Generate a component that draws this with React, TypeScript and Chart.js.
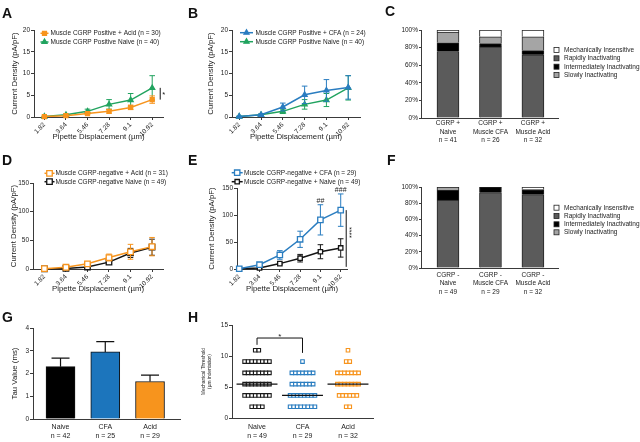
import React, { useEffect, useRef } from 'react';
import { Chart, registerables } from 'chart.js';

Chart.register(...registerables);

const FONT = "Arial, 'Liberation Sans', Helvetica, sans-serif";
const TXT = '#1b1b1b';
const AXIS = '#3a3a3a';
const ORANGE = '#F7941D';
const GREEN = '#21A35F';
const BLUE = '#2A7DC0';
const BLACK = '#141414';
const TICK = 6.5;
const TITLE = 7.8;

// ---------------- data ----------------
const displacementLabels = ['1.82', '3.64', '5.46', '7.28', '9.1', '10.92'];

// Panel A / B (CGRP positive)
const acidPosMean = [0.1, 0.3, 0.8, 1.3, 2.2, 4.0];
const acidPosSem = [0.05, 0.1, 0.2, 0.4, 0.5, 0.85];
const naivePosMean = [0.1, 0.5, 1.3, 2.9, 3.9, 6.7];
const naivePosSem = [0.1, 0.2, 0.5, 1.1, 1.5, 2.8];
const cfaPosMean = [0.1, 0.5, 2.3, 5.1, 6.1, 6.8];
const cfaPosSem = [0.05, 0.2, 0.9, 2.0, 2.5, 2.7];

// Panel D / E (CGRP negative)
const acidNegMean = [0.5, 3, 9, 20, 30, 39];
const acidNegSem = [0.3, 1, 2.5, 6, 13, 16];
const naiveNegMeanD = [0.3, 1, 3.5, 12, 28, 38];
const naiveNegSemD = [0.2, 0.6, 1.5, 3.5, 8, 14];
const cfaNegMean = [0.5, 8, 26, 55, 91, 109];
const cfaNegSem = [0.3, 2, 8, 15, 28, 30];
const naiveNegMeanE = [0.3, 2, 10, 20, 32, 39];
const naiveNegSemE = [0.2, 1, 2, 7, 13, 17];
const cfaNegMarks = ['', '', '', '', '##', '###'];

// Panels C / F (percent of neurons)
const classNames = ['Mechanically Insensitive', 'Rapidly Inactivating', 'Intermediately Inactivating', 'Slowly Inactivating'];
const classColors = ['#FFFFFF', '#5B5B5B', '#000000', '#A5A5A5'];
const posGroups = [['CGRP +', 'Naive', 'n = 41'], ['CGRP +', 'Muscle CFA', 'n = 26'], ['CGRP +', 'Muscle Acid', 'n = 32']];
const posRapid = [75.6, 80.8, 71.9];
const posIntermediate = [9.8, 3.8, 4.7];
const posSlow = [12.2, 7.7, 15.6];
const posInsensitive = [2.4, 7.7, 7.8];
const negGroups = [['CGRP -', 'Naive', 'n = 49'], ['CGRP -', 'Muscle CFA', 'n = 29'], ['CGRP -', 'Muscle Acid', 'n = 32']];
const negRapid = [83.7, 93.1, 90.6];
const negIntermediate = [12.2, 6.9, 6.3];
const negSlow = [4.1, 0, 0];
const negInsensitive = [0, 0, 3.1];

// Panel G
const tauGroups = [['Naive', 'n = 42'], ['CFA', 'n = 25'], ['Acid', 'n = 29']];
const tauMean = [2.3, 2.95, 1.65];
const tauSem = [0.38, 0.45, 0.28];
const tauColors = ['#000000', '#1C75BC', ORANGE];

// Panel H
const thresholdGroups = [['Naive', 'n = 49'], ['CFA', 'n = 29'], ['Acid', 'n = 32']];
const thresholdLevels = [1.82, 3.64, 5.46, 7.28, 9.1, 10.92];
const naiveThresholdCounts = [4, 8, 8, 8, 8, 2];
const cfaThresholdCounts = [8, 8, 7, 7, 1, 0];
const acidThresholdCounts = [2, 6, 7, 7, 2, 1];

// ---------------- layout ----------------
type Rect = { x: number; y: number; w: number; h: number };
type Area = { l: number; t: number; r: number; b: number };

const RA: Rect = { x: 0, y: 0, w: 195, h: 150 };
const RB: Rect = { x: 195, y: 0, w: 190, h: 150 };
const RC: Rect = { x: 385, y: 0, w: 255, h: 150 };
const RD: Rect = { x: 0, y: 150, w: 195, h: 150 };
const RE: Rect = { x: 195, y: 150, w: 190, h: 150 };
const RF: Rect = { x: 385, y: 150, w: 255, h: 150 };
const RG: Rect = { x: 0, y: 300, w: 195, h: 142 };
const RH: Rect = { x: 195, y: 300, w: 190, h: 142 };

const panelLetters = [
  { t: 'A', x: 2, y: 6 }, { t: 'B', x: 188, y: 6 }, { t: 'C', x: 385, y: 4 },
  { t: 'D', x: 2, y: 153 }, { t: 'E', x: 188, y: 153 }, { t: 'F', x: 387, y: 153 },
  { t: 'G', x: 2, y: 310 }, { t: 'H', x: 188, y: 310 },
];

// ---------------- drawing helpers ----------------
function drawText(ctx: CanvasRenderingContext2D, s: string, x: number, y: number, o: any = {}) {
  ctx.save();
  ctx.font = `${o.bold ? 'bold ' : ''}${o.size || TICK}px ${FONT}`;
  ctx.fillStyle = o.color || TXT;
  ctx.textAlign = o.align || 'left';
  ctx.textBaseline = o.baseline || 'middle';
  if (o.rotate) {
    ctx.translate(x, y);
    ctx.rotate(o.rotate);
    ctx.fillText(s, 0, 0);
  } else ctx.fillText(s, x, y);
  ctx.restore();
}

function marker(ctx: CanvasRenderingContext2D, style: string, x: number, y: number, r: number, fill: string, stroke: string, lw: number) {
  ctx.save();
  ctx.beginPath();
  if (style === 'triangle') {
    for (let k = 0; k < 3; k++) {
      const a = (k * 2 * Math.PI) / 3;
      const px = x + Math.sin(a) * r;
      const py = y - Math.cos(a) * r;
      if (k === 0) ctx.moveTo(px, py);
      else ctx.lineTo(px, py);
    }
    ctx.closePath();
  } else if (style === 'rect') {
    const s = r * Math.SQRT1_2;
    ctx.rect(x - s, y - s, 2 * s, 2 * s);
  } else {
    ctx.arc(x, y, r, 0, Math.PI * 2);
  }
  ctx.fillStyle = fill;
  ctx.fill();
  ctx.lineWidth = lw;
  ctx.strokeStyle = stroke;
  ctx.stroke();
  ctx.restore();
}

function drawErr(chart: any, index: number, after: boolean) {
  const ds = chart.data.datasets[index];
  if (!ds || !ds.errors || !!ds.errorAfter !== after) return;
  const meta = chart.getDatasetMeta(index);
  const ys = chart.scales.y;
  const ctx: CanvasRenderingContext2D = chart.ctx;
  ctx.save();
  ctx.strokeStyle = ds.errorColor || ds.borderColor;
  ctx.lineWidth = ds.errorWidth || 1;
  const cap = ds.capHalf ?? 2.5;
  meta.data.forEach((el: any, i: number) => {
    const e = ds.errors[i];
    if (!e) return;
    const v = ds.data[i].y;
    const x = el.x;
    const top = ys.getPixelForValue(v + e);
    const bot = ds.errorUpOnly ? ys.getPixelForValue(v) : ys.getPixelForValue(v - e);
    ctx.beginPath();
    ctx.moveTo(x, top);
    ctx.lineTo(x, bot);
    ctx.moveTo(x - cap, top);
    ctx.lineTo(x + cap, top);
    if (!ds.errorUpOnly) {
      ctx.moveTo(x - cap, bot);
      ctx.lineTo(x + cap, bot);
    }
    ctx.stroke();
  });
  ctx.restore();
}

const errorBarPlugin = {
  id: 'semBars',
  beforeDatasetDraw(chart: any, args: any) { drawErr(chart, args.index, false); },
  afterDatasetDraw(chart: any, args: any) { drawErr(chart, args.index, true); },
};

// ---------------- axis builders ----------------
function yAxis(o: any) {
  return {
    type: 'linear', position: 'left', min: o.min, max: o.max,
    ticks: { stepSize: o.step, font: { family: FONT, size: TICK }, color: TXT, padding: 1, callback: (v: number) => `${v}${o.suffix || ''}` },
    grid: { drawOnChartArea: false, drawTicks: true, tickLength: o.tickLength ?? 3, tickColor: AXIS, tickWidth: 1 },
    border: { display: true, color: AXIS, width: 1 },
    title: o.title
      ? { display: true, text: o.title, font: { family: FONT, size: o.titleSize || TITLE, lineHeight: 1.2 }, color: TXT, padding: { top: o.titlePad, bottom: 0 } }
      : { display: false },
    afterFit: (s: any) => { s.width = o.width; },
  };
}

function xAxis(o: any) {
  return {
    type: 'linear', position: 'bottom', min: o.min, max: o.max, offset: false,
    afterBuildTicks: (s: any) => { s.ticks = o.labels.map((_: any, i: number) => ({ value: i })); },
    ticks: {
      autoSkip: false, minRotation: o.rot || 0, maxRotation: o.rot || 0,
      font: { family: FONT, size: o.size || TICK, lineHeight: o.lh || 1.2 }, color: TXT, padding: o.pad ?? 1,
      callback: (v: number) => o.labels[Math.round(v)],
    },
    grid: { offset: false, drawOnChartArea: false, drawTicks: !!o.tickMarks, tickLength: o.tickMarks ? 3 : 0, tickColor: AXIS, tickWidth: 1 },
    border: { display: true, color: AXIS, width: 1 },
    title: o.title
      ? { display: true, text: o.title, font: { family: FONT, size: TITLE, lineHeight: 1.2 }, color: TXT, padding: { top: 0, bottom: o.titlePad } }
      : { display: false },
    afterFit: (s: any) => { s.height = o.height; },
  };
}

function paddingFor(rect: Rect, area: Area, xH: number) {
  return { left: 0, top: area.t - rect.y, right: rect.x + rect.w - area.r, bottom: rect.y + rect.h - area.b - xH };
}

const baseOptions = {
  animation: false, responsive: false, maintainAspectRatio: false, devicePixelRatio: 1, events: [],
};

function lineSet(label: string, means: number[], sems: number[], color: string, style: string, r: number, fill: string) {
  return {
    label,
    data: means.map((y, i) => ({ x: i, y })),
    errors: sems,
    borderColor: color, backgroundColor: color, borderWidth: 1.5,
    pointStyle: style, pointRadius: r, pointHoverRadius: r,
    pointBackgroundColor: fill, pointBorderColor: color, pointBorderWidth: 1.3,
    tension: 0, clip: false, capHalf: 2.8,
  };
}

function lineConfig(p: any, datasets: any[], annotate?: (chart: any, ctx: CanvasRenderingContext2D) => void) {
  const lh = TITLE * 1.2;
  const { rect, area, xH } = p;
  return {
    type: 'line',
    data: { datasets },
    options: {
      ...baseOptions,
      layout: { padding: paddingFor(rect, area, xH) },
      plugins: { legend: { display: false }, tooltip: { enabled: false } },
      scales: {
        x: xAxis({ min: p.xMin, max: p.xMax, labels: displacementLabels, rot: 45, height: xH, tickMarks: true, pad: 1, title: 'Pipette Displacement (µm)', titlePad: area.b + xH - p.xTitleY - lh / 2 }),
        y: yAxis({ min: 0, max: p.yMax, step: p.yStep, width: area.l - rect.x, title: 'Current Density (pA/pF)', titlePad: p.yTitleX - rect.x - lh / 2 }),
      },
    },
    plugins: [errorBarPlugin, {
      id: 'overlay',
      afterDraw(chart: any) {
        const ctx: CanvasRenderingContext2D = chart.ctx;
        datasets.forEach((ds, i) => {
          const y = p.legend.ys[i] - rect.y;
          const x1 = p.legend.x1 - rect.x;
          const x2 = p.legend.x2 - rect.x;
          ctx.save();
          ctx.strokeStyle = ds.borderColor;
          ctx.lineWidth = 1.5;
          ctx.beginPath();
          ctx.moveTo(x1, y);
          ctx.lineTo(x2, y);
          ctx.stroke();
          ctx.restore();
          marker(ctx, ds.pointStyle, (x1 + x2) / 2, y, ds.pointRadius, ds.pointBackgroundColor, ds.borderColor, 1.3);
          drawText(ctx, ds.label, p.legend.tx - rect.x, y + 0.3, { size: TICK });
        });
        if (annotate) annotate(chart, ctx);
      },
    }],
  };
}

function stackConfig(rect: Rect, area: Area, groups: string[][], rapid: number[], inter: number[], slow: number[], insens: number[], tickPad: number, legendYs: number[]) {
  const xH = 30;
  const mk = (vals: number[], color: string) => ({
    data: vals.map((y, i) => ({ x: i, y })),
    backgroundColor: color, borderColor: '#222', borderWidth: 1, borderSkipped: 'start',
    barThickness: 22, stack: 's',
  });
  const datasets = [mk(rapid, classColors[1]), mk(inter, classColors[2]), mk(slow, classColors[3]), mk(insens, classColors[0])];
  return {
    type: 'bar',
    data: { datasets },
    options: {
      ...baseOptions,
      layout: { padding: paddingFor(rect, area, xH) },
      plugins: { legend: { display: false }, tooltip: { enabled: false } },
      scales: {
        x: { ...xAxis({ min: -0.635, max: 2.59, labels: groups, height: xH, tickMarks: false, pad: tickPad, lh: 1.3 }), stacked: true },
        y: { ...yAxis({ min: 0, max: 100, step: 20, width: area.l - rect.x, suffix: '%', tickLength: 2 }), stacked: true },
      },
    },
    plugins: [{
      id: 'overlay',
      afterDraw(chart: any) {
        const ctx: CanvasRenderingContext2D = chart.ctx;
        classNames.forEach((name, i) => {
          const y = legendYs[i] - rect.y;
          const bx = 554 - rect.x;
          ctx.save();
          ctx.fillStyle = classColors[i];
          ctx.fillRect(bx, y - 2.5, 5, 5);
          ctx.strokeStyle = '#222';
          ctx.lineWidth = 0.8;
          ctx.strokeRect(bx, y - 2.5, 5, 5);
          ctx.restore();
          drawText(ctx, name, 564 - rect.x, y + 0.3, { size: TICK });
        });
      },
    }],
  };
}

// ---------------- panels ----------------
function buildA() {
  const ds = [
    lineSet('Muscle CGRP Positive + Acid (n = 30)', acidPosMean, acidPosSem, ORANGE, 'rect', 2.8, ORANGE),
    lineSet('Muscle CGRP Positive Naive (n = 40)', naivePosMean, naivePosSem, GREEN, 'triangle', 2.9, GREEN),
  ];
  return lineConfig({
    rect: RA, area: { l: 34, t: 30, r: 163, b: 117 }, xH: 30,
    yMax: 20, yStep: 5, yTitleX: 14.5, xMin: -0.48, xMax: 5.5, xTitleY: 137,
    legend: { x1: 40.5, x2: 48.5, tx: 50.5, ys: [33.3, 42] },
  }, ds, (chart, ctx) => {
    const xs = chart.scales.x, ys = chart.scales.y;
    const x = xs.getPixelForValue(5) + 8;
    ctx.save();
    ctx.strokeStyle = '#111';
    ctx.lineWidth = 1;
    ctx.beginPath();
    ctx.moveTo(x, ys.getPixelForValue(naivePosMean[5]));
    ctx.lineTo(x, ys.getPixelForValue(acidPosMean[5]));
    ctx.stroke();
    ctx.restore();
    drawText(ctx, '*', x + 2, (ys.getPixelForValue(naivePosMean[5]) + ys.getPixelForValue(acidPosMean[5])) / 2 + 3, { size: 7.5, baseline: 'alphabetic' });
  });
}

function buildB() {
  const ds = [
    lineSet('Muscle CGRP Positive + CFA (n = 24)', cfaPosMean, cfaPosSem, BLUE, 'triangle', 2.9, BLUE),
    lineSet('Muscle CGRP Positive Naive (n = 40)', naivePosMean, naivePosSem, GREEN, 'triangle', 2.9, GREEN),
  ];
  return lineConfig({
    rect: RB, area: { l: 232, t: 30, r: 360, b: 117 }, xH: 30,
    yMax: 20, yStep: 5, yTitleX: 211, xMin: -0.33, xMax: 5.54, xTitleY: 137,
    legend: { x1: 240, x2: 253, tx: 255.5, ys: [32.7, 41.7] },
  }, ds);
}

function buildD() {
  const ds = [
    lineSet('Muscle CGRP-negative + Acid (n = 31)', acidNegMean, acidNegSem, ORANGE, 'rect', 3.9, '#ffffff'),
    lineSet('Muscle CGRP-negative Naive (n = 49)', naiveNegMeanD, naiveNegSemD, BLACK, 'rect', 3.9, '#ffffff'),
  ];
  return lineConfig({
    rect: RD, area: { l: 33, t: 183, r: 163, b: 269 }, xH: 28,
    yMax: 150, yStep: 50, yTitleX: 14, xMin: -0.53, xMax: 5.51, xTitleY: 289,
    legend: { x1: 44.5, x2: 54.5, tx: 55.5, ys: [173.3, 181.7] },
  }, ds);
}

function buildE() {
  const ds = [
    lineSet('Muscle CGRP-negative + CFA (n = 29)', cfaNegMean, cfaNegSem, BLUE, 'rect', 3.8, '#ffffff'),
    lineSet('Muscle CGRP-negative + Naive (n = 49)', naiveNegMeanE, naiveNegSemE, BLACK, 'rect', 3.1, '#ffffff'),
  ];
  return lineConfig({
    rect: RE, area: { l: 237, t: 188, r: 347, b: 269 }, xH: 28,
    yMax: 150, yStep: 50, yTitleX: 212, xMin: -0.11, xMax: 5.31, xTitleY: 289,
    legend: { x1: 231.7, x2: 242.7, tx: 244, ys: [172.7, 181.7] },
  }, ds, (chart, ctx) => {
    const xs = chart.scales.x, ys = chart.scales.y;
    cfaNegMarks.forEach((m, i) => {
      if (!m) return;
      drawText(ctx, m, xs.getPixelForValue(i), ys.getPixelForValue(cfaNegMean[i] + cfaNegSem[i]) - 2, { size: 7, align: 'center', baseline: 'alphabetic' });
    });
    const x = xs.getPixelForValue(5) + 5.5;
    const yTop = ys.getPixelForValue(cfaNegMean[5]);
    const yBot = ys.getPixelForValue(4);
    ctx.save();
    ctx.strokeStyle = '#111';
    ctx.lineWidth = 1;
    ctx.beginPath();
    ctx.moveTo(x, yTop);
    ctx.lineTo(x, yBot);
    ctx.stroke();
    ctx.restore();
    drawText(ctx, '****', x + 6, (yTop + yBot) / 2 - 6, { size: 7, align: 'center', baseline: 'middle', rotate: -Math.PI / 2 });
  });
}

function buildC() {
  return stackConfig(RC, { l: 421, t: 30, r: 558, b: 118 }, posGroups, posRapid, posIntermediate, posSlow, posInsensitive, 1.1, [50, 58.3, 66.7, 75]);
}

function buildF() {
  return stackConfig(RF, { l: 421, t: 187, r: 558, b: 268 }, negGroups, negRapid, negIntermediate, negSlow, negInsensitive, 2.8, [207.7, 216, 224.3, 232.3]);
}

function buildG() {
  const rect = RG;
  const area = { l: 33, t: 328, r: 180, b: 419 };
  const xH = 21;
  const lh = TITLE * 1.2;
  return {
    type: 'bar',
    data: {
      datasets: [{
        data: tauMean.map((y, i) => ({ x: i, y })),
        errors: tauSem, errorUpOnly: true, errorAfter: true, capHalf: 9, errorColor: '#111', errorWidth: 1.2,
        backgroundColor: tauColors, borderColor: '#111', borderWidth: 1, barThickness: 29, clip: false,
      }],
    },
    options: {
      ...baseOptions,
      layout: { padding: paddingFor(rect, area, xH) },
      plugins: { legend: { display: false }, tooltip: { enabled: false } },
      scales: {
        x: xAxis({ min: -0.615, max: 2.67, labels: tauGroups, height: xH, tickMarks: false, pad: 3.9, size: 7, lh: 1.25 }),
        y: yAxis({ min: 0, max: 4, step: 1, width: area.l - rect.x, title: 'Tau Value (ms)', titlePad: 15 - rect.x - lh / 2 }),
      },
    },
    plugins: [errorBarPlugin],
  };
}

const DOT_STEP = 0.078;

function dotPoints(counts: number[], group: number) {
  const pts: { x: number; y: number }[] = [];
  counts.forEach((n, li) => {
    for (let k = 0; k < n; k++) pts.push({ x: group + (k - (n - 1) / 2) * DOT_STEP, y: thresholdLevels[li] });
  });
  return pts;
}

function medianOf(counts: number[]) {
  const vals: number[] = [];
  counts.forEach((n, i) => { for (let k = 0; k < n; k++) vals.push(thresholdLevels[i]); });
  vals.sort((a, b) => a - b);
  const m = vals.length;
  return m % 2 ? vals[(m - 1) / 2] : (vals[m / 2 - 1] + vals[m / 2]) / 2;
}

function buildH() {
  const rect = RH;
  const area = { l: 232, t: 325, r: 373, b: 418 };
  const xH = 22;
  const tSize = 4.8;
  const allCounts = [naiveThresholdCounts, cfaThresholdCounts, acidThresholdCounts];
  const colors = ['#1a1a1a', BLUE, ORANGE];
  const datasets = allCounts.map((c, g) => ({
    data: dotPoints(c, g),
    pointStyle: 'rect', pointRadius: 2.5, pointHoverRadius: 2.5,
    pointBackgroundColor: '#ffffff', pointBorderColor: colors[g], pointBorderWidth: 1.1,
    borderColor: colors[g], backgroundColor: '#ffffff', clip: false,
  }));
  return {
    type: 'scatter',
    data: { datasets },
    options: {
      ...baseOptions,
      layout: { padding: paddingFor(rect, area, xH) },
      plugins: { legend: { display: false }, tooltip: { enabled: false } },
      scales: {
        x: xAxis({ min: -0.55, max: 2.55, labels: thresholdGroups, height: xH, tickMarks: false, pad: 4.9, size: 7, lh: 1.25 }),
        y: yAxis({ min: 0, max: 15, step: 5, width: area.l - rect.x, title: ['Mechanical Threshold', '(µm indentation)'], titleSize: tSize, titlePad: 203.5 - rect.x - (tSize * 1.2) / 2 }),
      },
    },
    plugins: [{
      id: 'overlay',
      afterDraw(chart: any) {
        const ctx: CanvasRenderingContext2D = chart.ctx;
        const xs = chart.scales.x, ys = chart.scales.y;
        ctx.save();
        ctx.strokeStyle = '#111';
        ctx.lineWidth = 1.2;
        allCounts.forEach((c, g) => {
          const y = ys.getPixelForValue(medianOf(c));
          ctx.beginPath();
          ctx.moveTo(xs.getPixelForValue(g - 0.45), y);
          ctx.lineTo(xs.getPixelForValue(g + 0.45), y);
          ctx.stroke();
        });
        ctx.lineWidth = 1;
        ctx.beginPath();
        ctx.moveTo(xs.getPixelForValue(0), ys.getPixelForValue(11.8));
        ctx.lineTo(xs.getPixelForValue(0), ys.getPixelForValue(12.9));
        ctx.lineTo(xs.getPixelForValue(1), ys.getPixelForValue(12.9));
        ctx.lineTo(xs.getPixelForValue(1), ys.getPixelForValue(10.5));
        ctx.stroke();
        ctx.restore();
        drawText(ctx, '*', xs.getPixelForValue(0.5), ys.getPixelForValue(12.9) + 0.5, { size: 8, align: 'center', baseline: 'alphabetic' });
      },
    }],
  };
}

// ---------------- React ----------------
function ChartBox({ rect, build }: { rect: Rect; build: () => any }) {
  const ref = useRef<HTMLCanvasElement>(null);
  useEffect(() => {
    if (!ref.current) return;
    const chart = new Chart(ref.current, build());
    return () => chart.destroy();
  }, []);
  return (
    <canvas
      ref={ref}
      width={rect.w}
      height={rect.h}
      style={{ position: 'absolute', left: rect.x, top: rect.y, width: rect.w, height: rect.h, display: 'block' }}
    />
  );
}

export default function App() {
  return (
    <div style={{ position: 'absolute', left: 0, top: 0, width: 640, height: 442, background: '#ffffff', overflow: 'hidden', fontFamily: FONT }}>
      <ChartBox rect={RA} build={buildA} />
      <ChartBox rect={RB} build={buildB} />
      <ChartBox rect={RC} build={buildC} />
      <ChartBox rect={RD} build={buildD} />
      <ChartBox rect={RE} build={buildE} />
      <ChartBox rect={RF} build={buildF} />
      <ChartBox rect={RG} build={buildG} />
      <ChartBox rect={RH} build={buildH} />
      {panelLetters.map((p) => (
        <div
          key={p.t}
          style={{ position: 'absolute', left: p.x, top: p.y, fontSize: 14, fontWeight: 'bold', lineHeight: 1, color: '#111', fontFamily: FONT }}
        >
          {p.t}
        </div>
      ))}
    </div>
  );
}
